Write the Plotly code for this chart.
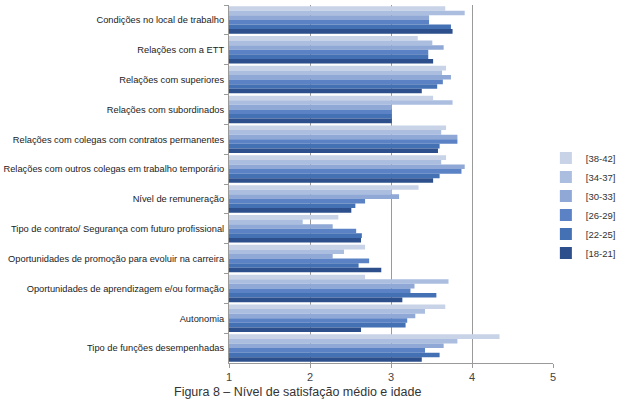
import plotly.graph_objects as go

categories = [
    "Condições no local de trabalho",
    "Relações com a ETT",
    "Relações com superiores",
    "Relações com subordinados",
    "Relações com colegas com contratos permanentes",
    "Relações com outros colegas em trabalho temporário",
    "Nível de remuneração",
    "Tipo de contrato/ Segurança com futuro profissional",
    "Oportunidades de promoção para evoluir na carreira",
    "Oportunidades de aprendizagem e/ou formação",
    "Autonomia",
    "Tipo de funções desempenhadas",
]

age_groups = ["[38-42]", "[34-37]", "[30-33]", "[26-29]", "[22-25]", "[18-21]"]

v_38_42 = [3.67, 3.33, 3.68, 3.52, 3.68, 3.68, 3.34, 2.35, 2.68, 2.68, 3.67, 4.34]
v_34_37 = [3.91, 3.51, 3.63, 3.76, 3.62, 3.62, 3.01, 1.91, 2.42, 3.71, 3.42, 3.82]
v_30_33 = [3.47, 3.65, 3.74, 3.01, 3.82, 3.91, 3.10, 2.28, 2.28, 3.29, 3.30, 3.65]
v_26_29 = [3.47, 3.46, 3.64, 3.01, 3.82, 3.87, 2.68, 2.57, 2.73, 3.24, 3.20, 3.42]
v_22_25 = [3.74, 3.46, 3.57, 3.01, 3.60, 3.60, 2.56, 2.64, 2.60, 3.56, 3.18, 3.60]
v_18_21 = [3.76, 3.52, 3.38, 3.01, 3.58, 3.52, 2.51, 2.63, 2.88, 3.14, 2.63, 3.38]

series = [v_38_42, v_34_37, v_30_33, v_26_29, v_22_25, v_18_21]
colors = ["#c8d3e8", "#abbee0", "#8fa8d5", "#5a82c4", "#4470b4", "#2d4f8c"]

x_ticks = [1, 2, 3, 4, 5]
caption = "Figura 8 – Nível de satisfação médio e idade"

fig = go.Figure()
for name, vals, col in zip(age_groups, series, colors):
    fig.add_trace(go.Bar(
        y=categories, x=vals, name=name, orientation="h",
        base=0, marker=dict(color=col, line=dict(width=0)),
    ))

fig.update_layout(
    width=617, height=402,
    margin=dict(l=229, r=64, t=5, b=39, autoexpand=False),
    paper_bgcolor="white", plot_bgcolor="white",
    barmode="group", bargap=0.08, bargroupgap=0.0,
    font=dict(family="Liberation Sans, Arial, sans-serif", size=9.3, color="#333333"),
    showlegend=True,
    legend=dict(x=0.978, xanchor="left", y=0.44, yanchor="middle",
                bgcolor="rgba(0,0,0,0)", font=dict(size=9.5, color="#333333"),
                tracegroupgap=0, itemwidth=30, traceorder="normal"),
    xaxis=dict(range=[1, 5], tickvals=x_ticks, showgrid=True, gridcolor="#9a9a9a", gridwidth=1,
               showline=True, linecolor="#9a9a9a", linewidth=1, ticks="outside", ticklen=4,
               tickcolor="#9a9a9a", zeroline=False, automargin=False,
               tickfont=dict(family="Liberation Sans, Arial, sans-serif", size=11, color="#444444")),
    yaxis=dict(autorange="reversed", showline=True, linecolor="#9a9a9a", linewidth=1,
               ticks="outside", ticklen=4, tickcolor="#9a9a9a", tickson="boundaries",
               showgrid=False, automargin=False, ticklabelstandoff=2,
               tickfont=dict(size=9.3, color="#222222")),
    annotations=[dict(text=caption, xref="paper", yref="paper", x=0.21, y=-0.106,
                      xanchor="center", yanchor="bottom", showarrow=False,
                      font=dict(family="Liberation Sans, Arial, sans-serif", size=12.5, color="#333333"))],
)

fig.write_html("out.html")
